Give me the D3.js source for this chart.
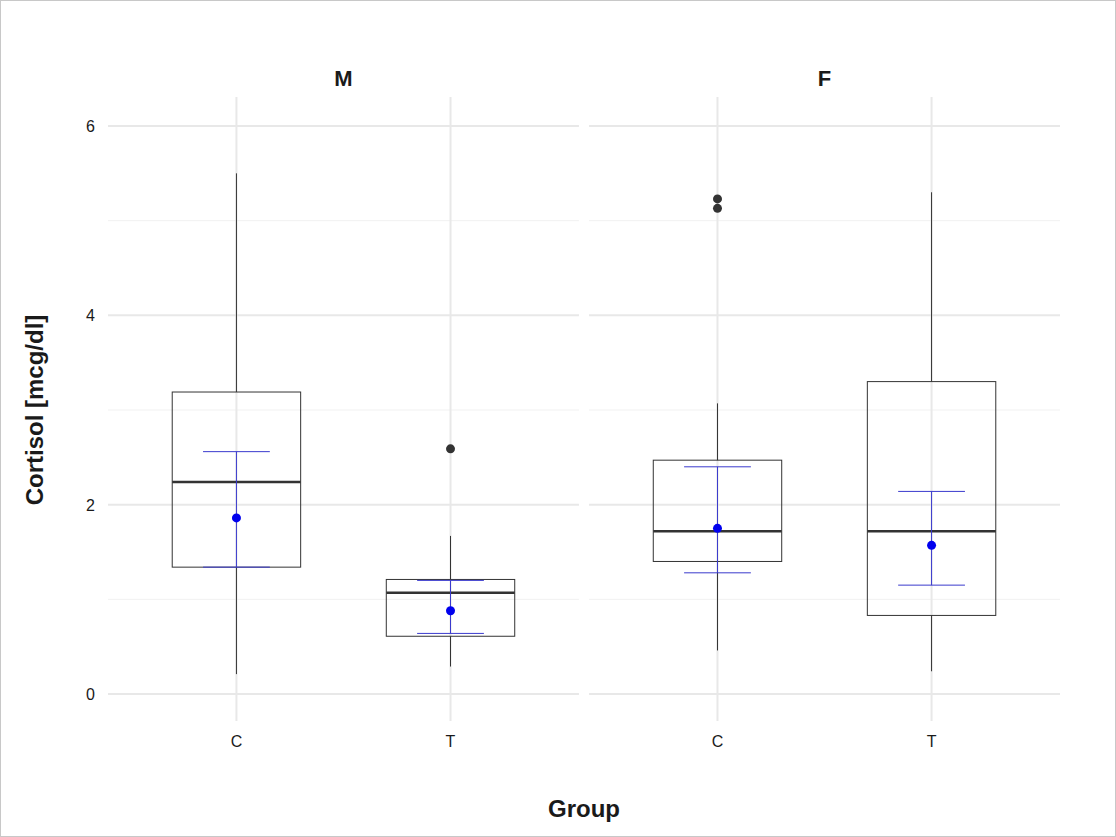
<!DOCTYPE html>
<html><head><meta charset="utf-8">
<script src="https://cdn.jsdelivr.net/npm/d3@7"></script>
<style>
body{margin:0;background:#fff;font-family:"Liberation Sans",Arial,sans-serif}
svg{display:block}
</style></head><body>
<svg id="chart" width="1116" height="837"></svg>
<script>
// facets and groups
const panels = ['M', 'F']
const groups = ['C', 'T']
// box stats per panel/group: [low whisker, q1, median, q3, high whisker]
const boxM = [[0.21, 1.34, 2.24, 3.19, 5.50], [0.29, 0.61, 1.07, 1.21, 1.67]]
const boxF = [[0.46, 1.40, 1.72, 2.47, 3.07], [0.24, 0.83, 1.72, 3.30, 5.30]]
const outM = [[], [2.59]]
const outF = [[5.23, 5.13], []]
// mean with error bar [lo, mean, hi]
const meanM = [[1.34, 1.86, 2.56], [0.64, 0.88, 1.20]]
const meanF = [[1.28, 1.75, 2.40], [1.15, 1.57, 2.14]]
const yTicks = [0, 2, 4, 6]
const yMinor = [1, 3, 5]

const data = { M: { box: boxM, out: outM, mean: meanM }, F: { box: boxF, out: outF, mean: meanF } }

const svg = d3.select('#chart')
svg.append('rect').attr('x', 0.5).attr('y', 0.5).attr('width', 1115).attr('height', 836)
  .attr('fill', '#fff').attr('stroke', '#c8c8c8')

const plotTop = 97, plotBottom = 721
const y = d3.scaleLinear().domain([0, 6]).range([694, 126])
const panelX = d3.scaleBand().domain(panels).range([108, 1060]).paddingInner(0.021)

panels.forEach(p => {
  const x0 = panelX(p), w = panelX.bandwidth()
  const x = d3.scaleBand().domain(groups).range([x0, x0 + w]).paddingInner(0.4).paddingOuter(0.3)
  const g = svg.append('g')
  const bw = x.bandwidth()
  const cx = k => x(k) + bw / 2
  yMinor.forEach(v => g.append('line').attr('x1', x0).attr('x2', x0 + w).attr('y1', y(v)).attr('y2', y(v)).attr('stroke', '#f1f1f1').attr('stroke-width', 1))
  yTicks.forEach(v => g.append('line').attr('x1', x0).attr('x2', x0 + w).attr('y1', y(v)).attr('y2', y(v)).attr('stroke', '#e8e8e8').attr('stroke-width', 2))
  groups.forEach(k => g.append('line').attr('x1', cx(k)).attr('x2', cx(k)).attr('y1', plotTop).attr('y2', plotBottom).attr('stroke', '#e8e8e8').attr('stroke-width', 2))

  g.append('text').attr('x', x0 + w / 2).attr('y', 86).attr('text-anchor', 'middle')
    .attr('font-size', 22).attr('font-weight', 'bold').attr('fill', '#1a1a1a').text(p)

  groups.forEach((k, i) => {
    const [lo, q1, md, q3, hi] = data[p].box[i]
    const c = cx(k)
    g.append('line').attr('x1', c).attr('x2', c).attr('y1', y(hi)).attr('y2', y(q3)).attr('stroke', '#333')
    g.append('line').attr('x1', c).attr('x2', c).attr('y1', y(q1)).attr('y2', y(lo)).attr('stroke', '#333')
    g.append('rect').attr('x', x(k)).attr('y', y(q3)).attr('width', bw).attr('height', y(q1) - y(q3))
      .attr('fill', 'none').attr('stroke', '#333')
    g.append('line').attr('x1', x(k)).attr('x2', x(k) + bw).attr('y1', y(md)).attr('y2', y(md)).attr('stroke', '#333').attr('stroke-width', 2.5)
    data[p].out[i].forEach(v => g.append('circle').attr('cx', c).attr('cy', y(v)).attr('r', 4.5).attr('fill', '#333'))
    const [mlo, m, mhi] = data[p].mean[i]
    const cw = bw * 0.26
    g.append('line').attr('x1', c).attr('x2', c).attr('y1', y(mhi)).attr('y2', y(mlo)).attr('stroke', '#3a3acd')
    ;[mlo, mhi].forEach(v => g.append('line').attr('x1', c - cw).attr('x2', c + cw).attr('y1', y(v)).attr('y2', y(v)).attr('stroke', '#3a3acd'))
    g.append('circle').attr('cx', c).attr('cy', y(m)).attr('r', 4.5).attr('fill', '#0000ee')
    g.append('text').attr('x', c).attr('y', 747).attr('text-anchor', 'middle').attr('font-size', 16).attr('fill', '#1a1a1a').text(k)
  })
})

yTicks.forEach(v => svg.append('text').attr('x', 95).attr('y', y(v) + 6).attr('text-anchor', 'end')
  .attr('font-size', 16).attr('fill', '#1a1a1a').text(v))

svg.append('text').attr('transform', 'translate(43,410) rotate(-90)').attr('text-anchor', 'middle')
  .attr('font-size', 24).attr('font-weight', 'bold').attr('fill', '#1a1a1a').text('Cortisol [mcg/dl]')
svg.append('text').attr('x', 584).attr('y', 817).attr('text-anchor', 'middle')
  .attr('font-size', 24).attr('font-weight', 'bold').attr('fill', '#1a1a1a').text('Group')
</script>
</body></html>
